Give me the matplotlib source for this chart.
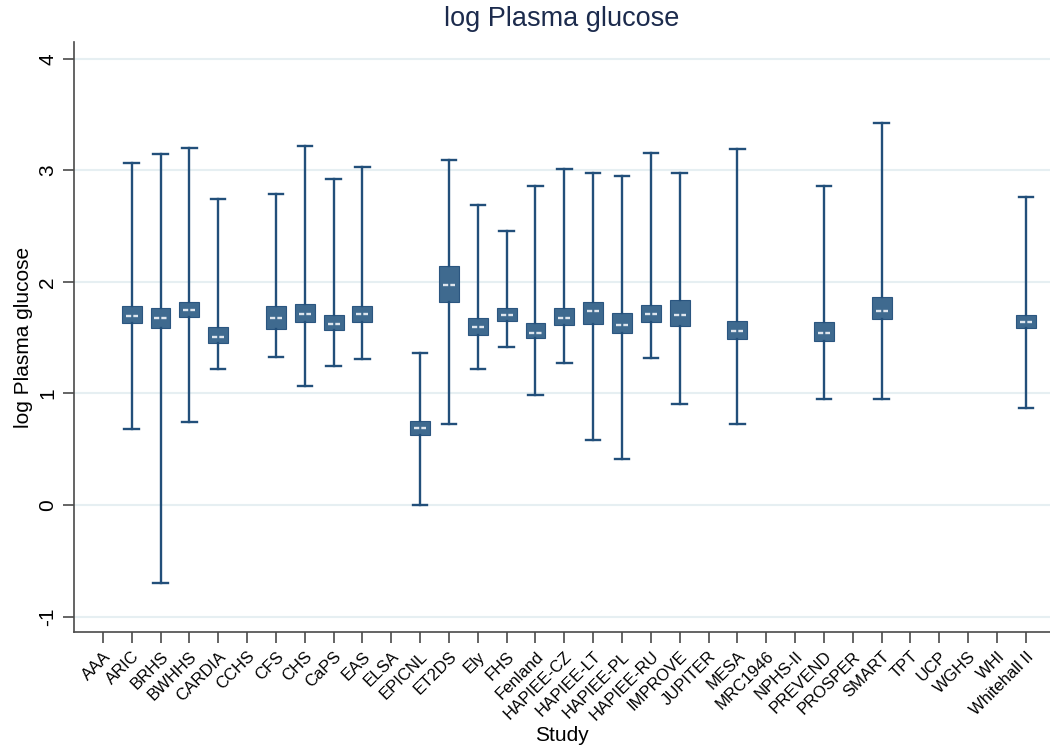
import numpy as np
import matplotlib
matplotlib.use("Agg")
import matplotlib.pyplot as plt

nan = np.nan
studies = ["AAA", "ARIC", "BRHS", "BWHHS", "CARDIA", "CCHS", "CFS", "CHS", "CaPS", "EAS",
           "ELSA", "EPICNL", "ET2DS", "Ely", "FHS", "Fenland", "HAPIEE-CZ", "HAPIEE-LT",
           "HAPIEE-PL", "HAPIEE-RU", "IMPROVE", "JUPITER", "MESA", "MRC1946", "NPHS-II",
           "PREVEND", "PROSPER", "SMART", "TPT", "UCP", "WGHS", "WHI", "Whitehall II"]

upper = [nan, 3.07, 3.146, 3.20, 2.74, nan, 2.79, 3.22, 2.92, 3.03,
         nan, 1.36, 3.09, 2.69, 2.46, 2.86, 3.01, 2.98,
         2.95, 3.16, 2.98, nan, 3.19, nan, nan,
         2.86, nan, 3.42, nan, nan, nan, nan, 2.76]
q3 = [nan, 1.786, 1.768, 1.816, 1.595, nan, 1.786, 1.80, 1.70, 1.786,
      nan, 0.75, 2.14, 1.68, 1.77, 1.628, 1.77, 1.816,
      1.72, 1.79, 1.834, nan, 1.65, nan, nan,
      1.643, nan, 1.866, nan, nan, nan, nan, 1.70]
median = [nan, 1.694, 1.68, 1.75, 1.508, nan, 1.676, 1.709, 1.625, 1.714,
          nan, 0.69, 1.969, 1.60, 1.70, 1.544, 1.673, 1.736,
          1.616, 1.709, 1.70, nan, 1.56, nan, nan,
          1.544, nan, 1.736, nan, nan, nan, nan, 1.643]
q1 = [nan, 1.628, 1.583, 1.685, 1.452, nan, 1.58, 1.64, 1.565, 1.64,
      nan, 0.63, 1.816, 1.52, 1.65, 1.50, 1.61, 1.625,
      1.54, 1.64, 1.607, nan, 1.49, nan, nan,
      1.472, nan, 1.664, nan, nan, nan, nan, 1.583]
lower = [nan, 0.68, -0.70, 0.74, 1.22, nan, 1.33, 1.07, 1.25, 1.31,
         nan, 0.0, 0.73, 1.22, 1.42, 0.99, 1.27, 0.585,
         0.41, 1.32, 0.91, nan, 0.73, nan, nan,
         0.95, nan, 0.95, nan, nan, nan, nan, 0.87]
yticks = [-1, 0, 1, 2, 3, 4]

plt.rcParams['font.family'] = ['Liberation Sans', 'DejaVu Sans']

fig = plt.figure(figsize=(10.5, 7.53), dpi=100)
ax = fig.add_axes([0.0705, 0.1607, 0.9295, 0.7833])

fill_c = '#3f6a8f'
edge_c = '#2b5680'
line_c = '#224f7a'

stats = []
positions = []
for i, name in enumerate(studies):
    if np.isnan(median[i]):
        continue
    stats.append(dict(med=median[i], q1=q1[i], q3=q3[i],
                      whislo=lower[i], whishi=upper[i], fliers=[], label=name))
    positions.append(i)

ax.bxp(stats, positions=positions, widths=0.69, capwidths=0.5, patch_artist=True,
       showfliers=False,
       boxprops=dict(facecolor=fill_c, edgecolor=edge_c, linewidth=0.8),
       whiskerprops=dict(color=line_c, linewidth=1.7),
       capprops=dict(color=line_c, linewidth=1.7),
       medianprops=dict(linewidth=0),
       zorder=3)

pos = np.array(positions)
meds = np.array([s['med'] for s in stats])
ax.hlines(meds, pos - 0.21, pos + 0.21, colors='#dfe6ee', linewidth=1.7,
          linestyles=(0, (2.2, 0.9)), zorder=4)

ax.set_xlim(-1.0, 32.84)
ax.set_ylim(-1.138, 4.149)
ax.set_yticks(yticks)
ax.set_yticklabels([str(v) for v in yticks], rotation=90, va='center', fontsize=15)
ax.set_xticks(range(len(studies)))
ax.set_xticklabels(studies, rotation=45, ha='right', rotation_mode='anchor', fontsize=12)
ax.tick_params(axis='both', direction='out', length=8, width=1.2, color='#4a4a4a')
ax.tick_params(axis='y', pad=4)
ax.tick_params(axis='x', pad=4)

ax.grid(axis='y', color='#e6eff2', linewidth=1.5, zorder=0)
ax.set_axisbelow(True)
for s in ['top', 'right']:
    ax.spines[s].set_visible(False)
for s in ['left', 'bottom']:
    ax.spines[s].set_color('#4a4a4a')
    ax.spines[s].set_linewidth(1.2)

ax.set_ylabel('log Plasma glucose', fontsize=15, labelpad=4)
ax.set_xlabel('Study', fontsize=15, labelpad=2)
ax.set_title('log Plasma glucose', fontsize=19.5, color='#1c2b4d', pad=12)

fig.savefig('out.png', dpi=100)
